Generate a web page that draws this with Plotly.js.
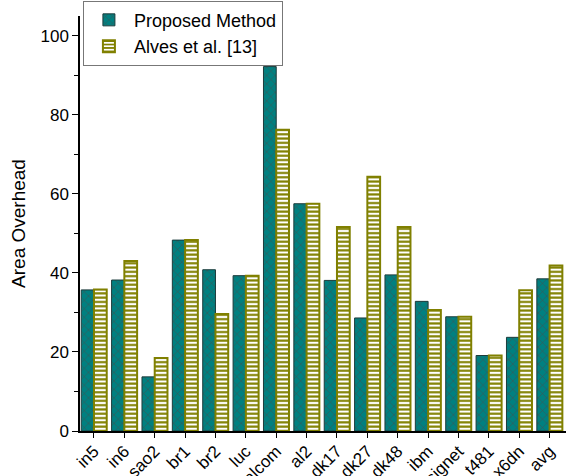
<!DOCTYPE html>
<html><head><meta charset="utf-8">
<script src="https://cdn.plot.ly/plotly-3.0.1.min.js"></script>
<style>body{margin:0;padding:0;background:#fff}#chart{width:566px;height:476px}</style>
</head><body><div id="chart"></div>
<script>
const categories = ["in5","in6","sao2","br1","br2","luc","alcom","al2","dk17","dk27","dk48","ibm","signet","t481","x6dn","avg"];
const proposed = [35.7,38.2,13.7,48.3,40.8,39.3,92.2,57.5,38.1,28.6,39.5,32.8,28.9,19.1,23.7,38.5];
const alves = [35.8,43.0,18.5,48.3,29.6,39.3,76.2,57.5,51.6,64.3,51.6,30.6,28.9,19.1,35.6,41.9];
const yTicks = [0,20,40,60,80,100];

const traces = [
  {type:'bar', name:'Proposed Method', x:categories, y:proposed,
   marker:{color:'#008080', line:{color:'#1c3c3c', width:1},
           pattern:{shape:'x', fgcolor:'#4a4a4a', bgcolor:'#008080', size:6, solidity:0.15}}},
  {type:'bar', name:'Alves et al. [13]', x:categories, y:alves,
   marker:{color:'#ffffff', line:{color:'#808000', width:2},
           pattern:{shape:'-', fgcolor:'#808000', bgcolor:'#ffffff', size:4.3, solidity:0.5, fillmode:'replace'}}}
];
const layout = {
  width:566, height:476,
  margin:{l:80, r:0, t:16, b:45},
  paper_bgcolor:'#fff', plot_bgcolor:'#fff',
  font:{family:'Liberation Sans, Arial, sans-serif', color:'#000'},
  barmode:'group', bargap:0.16, bargroupgap:0,
  showlegend:true,
  legend:{x:0.006, y:1.037, xanchor:'left', yanchor:'top', bgcolor:'#fff', bordercolor:'#777', borderwidth:1,
          font:{size:18}, tracegroupgap:0, itemwidth:40},
  xaxis:{type:'category', range:[-0.46,15.54], showline:true, linecolor:'#000', linewidth:1.5,
         ticks:'outside', ticklen:5, tickcolor:'#000', tickangle:-45, tickfont:{size:17}, ticklabelstandoff:-3,
         minor:{ticks:'outside', ticklen:5, tickcolor:'#000'}, showgrid:false, zeroline:false, automargin:false},
  yaxis:{range:[0,105], tickvals:yTicks, ticktext:yTicks.map(String), showline:true, linecolor:'#000', linewidth:1.5,
         ticks:'outside', ticklen:6, tickcolor:'#000', tickfont:{size:17},
         minor:{tickvals:[10,30,50,70,90], ticks:'outside', ticklen:4, tickcolor:'#000'},
         showgrid:false, zeroline:false, automargin:false,
         title:{text:'Area Overhead', font:{size:19}, standoff:10}}
};
Plotly.newPlot('chart', traces, layout, {displayModeBar:false});
</script></body></html>
